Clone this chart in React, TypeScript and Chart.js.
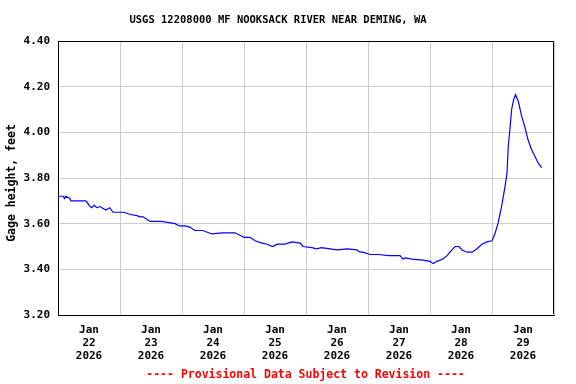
import React, { useEffect, useRef } from "react";
import { Chart, registerables } from "chart.js";

Chart.register(...registerables);

const chartTitle = "USGS 12208000 MF NOOKSACK RIVER NEAR DEMING, WA";
const footerText = "---- Provisional Data Subject to Revision ----";
const yAxisTitle = "Gage height, feet";
const monthLabel = "Jan";
const yearLabel = "2026";
const dayLabels = ["22", "23", "24", "25", "26", "27", "28", "29"];

// hours since Jan 22 2026 00:00
const hours = [
  0, 2, 2.5, 3, 4.6, 5, 6.6, 8, 10.8, 11.5, 12, 13, 14, 15, 16.3, 17, 18.5, 20, 21.3, 24, 25.5,
  28, 30.6, 31.7, 33, 35.6, 40, 45.3, 47, 49.2, 51, 53, 56, 59.6, 63.5, 68.5, 71.2, 72, 74.3,
  76.3, 79, 81, 83, 85, 87.9, 89, 90.6, 93.7, 94.8, 98.3, 100, 102, 105.3, 108, 112, 115.7,
  116.9, 118, 120.8, 124, 128, 132.4, 133.5, 134.5, 137, 141.3, 144, 145.2, 146.7, 149,
  150.6, 151.7, 153.7, 155.2, 156.4, 158.3, 160.3, 162.2, 164.1, 166, 168, 169.1, 170.3,
  171.7, 173, 173.8, 174.3, 175, 175.6, 176.3, 177.1, 178.2, 179.5, 180.8, 182, 183.3,
  184.6, 185.9, 187.2,
];

const gageHeight = [
  3.72, 3.72, 3.71, 3.72, 3.71, 3.70, 3.70, 3.70, 3.70, 3.69, 3.68, 3.67, 3.68, 3.67, 3.675, 3.67, 3.66, 3.67, 3.65, 3.65, 3.65,
  3.64, 3.635, 3.63, 3.63, 3.61, 3.61, 3.60, 3.59, 3.59, 3.585, 3.57, 3.57, 3.555, 3.56, 3.56, 3.545, 3.54, 3.54,
  3.525, 3.515, 3.51, 3.50, 3.51, 3.51, 3.515, 3.52, 3.515, 3.50, 3.495, 3.49, 3.495, 3.49, 3.485, 3.49, 3.485,
  3.475, 3.475, 3.465, 3.465, 3.46, 3.46, 3.445, 3.45, 3.445, 3.44, 3.435, 3.425, 3.435, 3.445,
  3.46, 3.475, 3.50, 3.50, 3.485, 3.475, 3.475, 3.49, 3.51, 3.52, 3.525, 3.555, 3.60,
  3.675, 3.76, 3.82, 3.94, 4.02, 4.10, 4.14, 4.165, 4.135, 4.07, 4.02, 3.965, 3.925,
  3.895, 3.865, 3.845,
];

const FONT = "'DejaVu Sans Mono', monospace";

const textPlugin = {
  id: "usgsText",
  afterDraw(chart: any) {
    const { ctx, chartArea: a } = chart;
    ctx.save();
    ctx.strokeStyle = "#000";
    ctx.lineWidth = 1;
    const l = Math.round(a.left);
    const t = Math.round(a.top) + 0.5;
    const r = Math.round(a.right) - 0.5;
    const b = Math.round(a.bottom) - 1;
    ctx.beginPath();
    ctx.moveTo(l, t);
    ctx.lineTo(r, t);
    ctx.lineTo(r, b);
    ctx.stroke();

    ctx.fillStyle = "#000";
    ctx.font = `bold 10.5px ${FONT}`;
    ctx.textAlign = "center";
    ctx.textBaseline = "middle";
    ctx.fillText(chartTitle, 278, 20);

    ctx.fillStyle = "#ff0000";
    ctx.font = `bold 11.5px ${FONT}`;
    ctx.fillText(footerText, 305.5, 375);

    ctx.fillStyle = "#000";
    ctx.font = `bold 11.5px ${FONT}`;
    ctx.translate(12, 183);
    ctx.rotate(-Math.PI / 2);
    ctx.fillText(yAxisTitle, 0, 0);
    ctx.restore();
  },
};

export default function App() {
  const ref = useRef<HTMLCanvasElement>(null);
  useEffect(() => {
    if (!ref.current) return;
    const data = hours.map((h, i) => ({ x: h, y: gageHeight[i] }));
    const chart = new Chart(ref.current, {
      type: "line",
      data: {
        datasets: [
          {
            data,
            borderColor: "#0000ff",
            borderWidth: 1.2,
            pointRadius: 0,
            tension: 0,
            fill: false,
          },
        ],
      },
      options: {
        animation: false,
        responsive: false,
        devicePixelRatio: 1,
        layout: { padding: { left: 0, top: 41, right: 22, bottom: 0 } },
        plugins: { legend: { display: false }, tooltip: { enabled: false } },
        scales: {
          x: {
            type: "linear",
            min: 0,
            max: 192,
            afterFit: (s: any) => {
              s.height = 69;
            },
            afterBuildTicks: (s: any) => {
              const t = [];
              for (let v = 0; v <= 192; v += 12) t.push({ value: v });
              s.ticks = t;
            },
            grid: {
              color: (c: any) =>
                c.tick && c.tick.value % 24 === 0 ? "#cccccc" : "rgba(0,0,0,0)",
              drawTicks: false,
              lineWidth: 1,
            },
            border: { color: "#000", width: 1 },
            ticks: {
              autoSkip: false,
              maxRotation: 0,
              minRotation: 0,
              padding: 9,
              color: "#000",
              font: { family: FONT, size: 11, weight: "bold", lineHeight: 1.16 },
              callback: (v: any) => {
                const n = Number(v);
                if (n % 24 !== 12) return "";
                const d = dayLabels[Math.floor(n / 24)];
                return d ? [monthLabel, d, yearLabel] : "";
              },
            },
          },
          y: {
            min: 3.2,
            max: 4.4,
            afterFit: (s: any) => {
              s.width = 58;
            },
            grid: { color: "#cccccc", drawTicks: false, lineWidth: 1 },
            border: { color: "#000", width: 1 },
            ticks: {
              stepSize: 0.2,
              padding: 8,
              color: "#000",
              font: { family: FONT, size: 11, weight: "bold" },
              callback: (v: any) => Number(v).toFixed(2),
            },
          },
        },
      },
      plugins: [textPlugin],
    });
    return () => chart.destroy();
  }, []);
  return (
    <div style={{ position: "fixed", left: 0, top: 0, width: 576, height: 384, background: "#fff" }}>
      <canvas ref={ref} width={576} height={384} />
    </div>
  );
}
